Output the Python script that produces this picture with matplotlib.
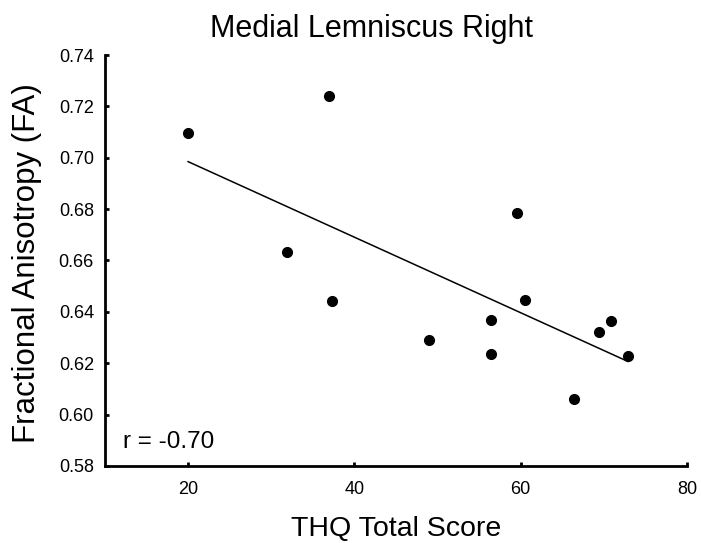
import numpy as np
import matplotlib
matplotlib.use("Agg")
import matplotlib.pyplot as plt

plt.rcParams["font.family"] = ["Liberation Sans", "DejaVu Sans"]

# THQ total score vs FA
thq_score = [20.0, 37.0, 31.9, 37.3, 49.0, 59.5, 60.5, 56.4, 56.4, 70.8, 69.4, 72.9, 66.4]
fa_value = [0.7095, 0.7240, 0.6634, 0.6442, 0.6291, 0.6786, 0.6447, 0.6368, 0.6237,
            0.6365, 0.6323, 0.6228, 0.6060]

x_ticks = [20, 40, 60, 80]
y_ticks = [0.58, 0.60, 0.62, 0.64, 0.66, 0.68, 0.70, 0.72, 0.74]

x = np.array(thq_score)
y = np.array(fa_value)

fig = plt.figure(figsize=(7.01, 5.43), dpi=100)
ax = fig.add_axes([105 / 701, 1 - 466 / 543, 582 / 701, 411 / 543])

# Points
ax.plot(x, y, "o", color="black", markersize=7, zorder=3)

# Least squares line over the data range
slope, intercept = np.polyfit(x, y, 1)
xs = np.array([x.min(), x.max()])
ax.plot(xs, slope * xs + intercept, color="black", linewidth=1.1)

r = np.corrcoef(x, y)[0, 1]
ax.text(0.031, 0.043, f"r = {r:.2f}", transform=ax.transAxes, fontsize=17.5,
        ha="left", va="baseline")

# Axes styling
ax.set_xlim(10, 80)
ax.set_ylim(0.58, 0.74)
ax.set_xticks(x_ticks)
ax.set_yticks(y_ticks)
ax.set_yticklabels([f"{v:.2f}" for v in y_ticks])
for side in ("top", "right"):
    ax.spines[side].set_visible(False)
for side in ("left", "bottom"):
    ax.spines[side].set_linewidth(2)
ax.tick_params(axis="both", direction="in", length=3, width=2, labelsize=13)
ax.tick_params(axis="x", pad=11)
ax.tick_params(axis="y", pad=8)

ax.set_xlabel("THQ Total Score", fontsize=20.5)
ax.xaxis.set_label_coords(0.5, -0.122)
ax.set_ylabel("Fractional Anisotropy (FA)", fontsize=22.5)
ax.yaxis.set_label_coords(-0.108, 0.494)

fig.text(371 / 701, 1 - 37 / 543, "Medial Lemniscus Right", fontsize=22,
         ha="center", va="baseline")

fig.savefig("out.png", dpi=100)
